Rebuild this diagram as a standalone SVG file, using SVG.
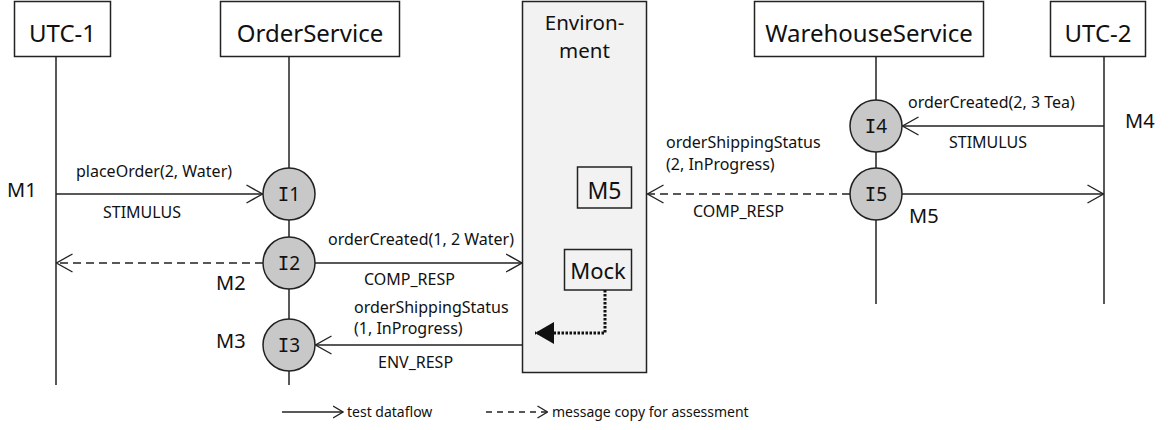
<svg xmlns="http://www.w3.org/2000/svg" width="1173" height="430" viewBox="0 0 1173 430">
  <style>
    text { font-family: "Noto Sans", "Open Sans", sans-serif; fill: #111; }
    .head { font-size: 24px; text-anchor: middle; }
    .lbl { font-size: 16px; }
    .mlbl { font-size: 20px; }
    .leg { font-size: 14px; }
    .ilbl { font-size: 19px; text-anchor: middle; }
    .ilbl tspan.i { font-family: "DejaVu Sans Mono", monospace; }
    .box { fill: #fff; stroke: #222; stroke-width: 1.5; }
    .life { stroke: #222; stroke-width: 1.5; fill: none; }
    .inst { fill: #c8c8c8; stroke: #222; stroke-width: 1.5; }
    .flow { stroke: #222; stroke-width: 1.5; fill: none; marker-end: url(#open); }
    .copy { stroke: #222; stroke-width: 1.5; fill: none; stroke-dasharray: 8 5; marker-end: url(#open); }
    .legflow { stroke: #222; stroke-width: 1.3; fill: none; marker-end: url(#openSmall); }
    .legcopy { stroke: #222; stroke-width: 1.3; fill: none; stroke-dasharray: 6 5; marker-end: url(#openSmall); }
    .mock { stroke: #111; stroke-width: 3; fill: none; stroke-dasharray: 2.5 1.5; marker-end: url(#solid); }
  </style>
  <defs>
    <marker id="open" viewBox="0 0 17 20" refX="16.5" refY="10" markerWidth="17" markerHeight="20" markerUnits="userSpaceOnUse" orient="auto">
      <path d="M0.5,1 L16.5,10 L0.5,19" fill="none" stroke="#222" stroke-width="1.4"/>
    </marker>
    <marker id="openSmall" viewBox="0 0 11 14" refX="10.5" refY="7" markerWidth="11" markerHeight="14" markerUnits="userSpaceOnUse" orient="auto">
      <path d="M0.5,1 L10.5,7 L0.5,13" fill="none" stroke="#222" stroke-width="1.3"/>
    </marker>
    <marker id="solid" viewBox="0 0 20 24" refX="19" refY="12" markerWidth="20" markerHeight="24" markerUnits="userSpaceOnUse" orient="auto">
      <path d="M0,1 L19,12 L0,23 Z" fill="#111"/>
    </marker>
  </defs>

  <!-- environment frame with its inner elements -->
  <g id="environment">
    <rect x="522.5" y="1.5" width="124" height="371" fill="#f2f2f2" stroke="#222" stroke-width="1.5"/>
    <text class="head" style="font-size:20.5px"><tspan x="584.5" y="30">Environ-</tspan><tspan x="584.5" y="57.5">ment</tspan></text>
  </g>
  <g id="env-m5">
    <rect x="577.5" y="167" width="54" height="41" fill="#f2f2f2" stroke="#222" stroke-width="1.5"/>
    <text class="head" x="604.5" y="199" style="font-size:23px">M5</text>
  </g>
  <g id="env-mock">
    <rect x="564.5" y="249.5" width="67" height="40.5" fill="#f2f2f2" stroke="#222" stroke-width="1.5"/>
    <text class="head" x="598" y="278.5" style="font-size:22px">Mock</text>
  </g>

  <!-- lifeline headers -->
  <g id="utc1">
    <line class="life" x1="56" y1="57" x2="56" y2="385"/>
    <rect class="box" x="14.5" y="1.5" width="96" height="55"/>
    <text class="head" x="62.5" y="41.5">UTC-1</text>
  </g>
  <g id="order-service">
    <line class="life" x1="289" y1="57" x2="289" y2="385"/>
    <rect class="box" x="220.5" y="1.5" width="179" height="55"/>
    <text class="head" x="310" y="41.5">OrderService</text>
  </g>
  <g id="warehouse-service">
    <line class="life" x1="876" y1="57" x2="876" y2="304"/>
    <rect class="box" x="754.5" y="1.5" width="229" height="55"/>
    <text class="head" x="869" y="41.5">WarehouseService</text>
  </g>
  <g id="utc2">
    <line class="life" x1="1104" y1="57" x2="1104" y2="304"/>
    <rect class="box" x="1050.5" y="1.5" width="95" height="55"/>
    <text class="head" x="1098" y="41.5">UTC-2</text>
  </g>

  <!-- message connectors -->
  <g id="connectors">
    <line class="flow" x1="56" y1="194" x2="262.5" y2="194"/>
    <line class="copy" x1="263" y1="263" x2="56.5" y2="263"/>
    <line class="flow" x1="315" y1="263" x2="522" y2="263"/>
    <line class="flow" x1="522" y1="345" x2="315.5" y2="345"/>
    <polyline class="mock" points="605,290 605,333 535,333"/>
    <line class="flow" x1="1104" y1="126" x2="902.5" y2="126"/>
    <line class="copy" x1="850" y1="194" x2="647.5" y2="194"/>
    <line class="flow" x1="902" y1="194" x2="1103.5" y2="194"/>

    <text class="lbl" x="76" y="177">placeOrder(2, Water)</text>
    <text class="lbl" x="103" y="218">STIMULUS</text>
    <text class="lbl" x="328" y="245">orderCreated(1, 2 Water)</text>
    <text class="lbl" x="364" y="285">COMP_RESP</text>
    <text class="lbl" x="354" y="313">orderShippingStatus</text>
    <text class="lbl" x="354" y="334">(1, InProgress)</text>
    <text class="lbl" x="378" y="368">ENV_RESP</text>
    <text class="lbl" x="908" y="108">orderCreated(2, 3 Tea)</text>
    <text class="lbl" x="949" y="148">STIMULUS</text>
    <text class="lbl" x="666" y="148">orderShippingStatus</text>
    <text class="lbl" x="666" y="170">(2, InProgress)</text>
    <text class="lbl" x="693" y="217">COMP_RESP</text>

    <text class="mlbl" x="7" y="197">M1</text>
    <text class="mlbl" x="216" y="290">M2</text>
    <text class="mlbl" x="216" y="348">M3</text>
    <text class="mlbl" x="1125" y="128">M4</text>
    <text class="mlbl" x="909" y="223">M5</text>
  </g>

  <!-- interaction points -->
  <g id="i1">
    <circle class="inst" cx="289" cy="194" r="26"/>
    <text class="ilbl" x="289" y="201"><tspan class="i">I</tspan>1</text>
  </g>
  <g id="i2">
    <circle class="inst" cx="289" cy="263" r="26"/>
    <text class="ilbl" x="289" y="270"><tspan class="i">I</tspan>2</text>
  </g>
  <g id="i3">
    <circle class="inst" cx="289" cy="345" r="26"/>
    <text class="ilbl" x="289" y="352"><tspan class="i">I</tspan>3</text>
  </g>
  <g id="i4">
    <circle class="inst" cx="876" cy="126" r="26"/>
    <text class="ilbl" x="876" y="133"><tspan class="i">I</tspan>4</text>
  </g>
  <g id="i5">
    <circle class="inst" cx="876" cy="194" r="26"/>
    <text class="ilbl" x="876" y="201"><tspan class="i">I</tspan>5</text>
  </g>

  <!-- legend -->
  <g id="legend">
    <line class="legflow" x1="282" y1="412" x2="343" y2="412"/>
    <text class="leg" x="347" y="417">test dataflow</text>
    <line class="legcopy" x1="486" y1="412" x2="547.5" y2="412"/>
    <text class="leg" x="552" y="417">message copy for assessment</text>
  </g>
</svg>
